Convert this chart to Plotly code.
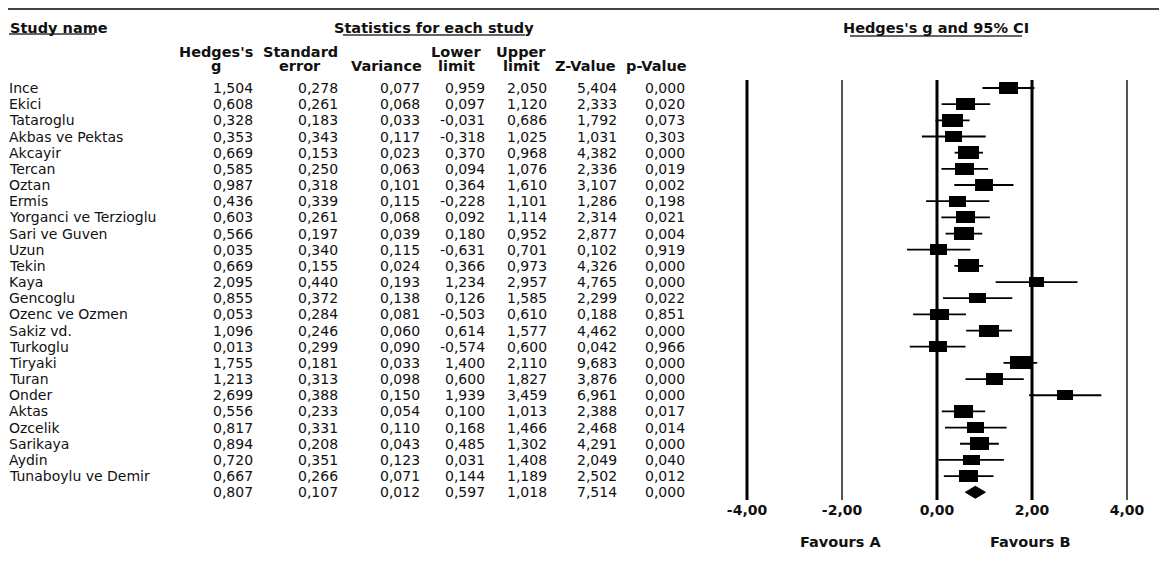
import plotly.graph_objects as go

# ---------------- data ----------------
studies = ["Ince", "Ekici", "Tataroglu", "Akbas ve Pektas", "Akcayir", "Tercan", "Oztan",
           "Ermis", "Yorganci ve Terzioglu", "Sari ve Guven", "Uzun", "Tekin", "Kaya",
           "Gencoglu", "Ozenc ve Ozmen", "Sakiz vd.", "Turkoglu", "Tiryaki", "Turan",
           "Onder", "Aktas", "Ozcelik", "Sarikaya", "Aydin", "Tunaboylu ve Demir"]
hedges_g = [1.504, 0.608, 0.328, 0.353, 0.669, 0.585, 0.987, 0.436, 0.603, 0.566, 0.035, 0.669,
            2.095, 0.855, 0.053, 1.096, 0.013, 1.755, 1.213, 2.699, 0.556, 0.817, 0.894, 0.720, 0.667]
std_err = [0.278, 0.261, 0.183, 0.343, 0.153, 0.250, 0.318, 0.339, 0.261, 0.197, 0.340, 0.155,
           0.440, 0.372, 0.284, 0.246, 0.299, 0.181, 0.313, 0.388, 0.233, 0.331, 0.208, 0.351, 0.266]
variance = [0.077, 0.068, 0.033, 0.117, 0.023, 0.063, 0.101, 0.115, 0.068, 0.039, 0.115, 0.024,
            0.193, 0.138, 0.081, 0.060, 0.090, 0.033, 0.098, 0.150, 0.054, 0.110, 0.043, 0.123, 0.071]
lower = [0.959, 0.097, -0.031, -0.318, 0.370, 0.094, 0.364, -0.228, 0.092, 0.180, -0.631, 0.366,
         1.234, 0.126, -0.503, 0.614, -0.574, 1.400, 0.600, 1.939, 0.100, 0.168, 0.485, 0.031, 0.144]
upper = [2.050, 1.120, 0.686, 1.025, 0.968, 1.076, 1.610, 1.101, 1.114, 0.952, 0.701, 0.973,
         2.957, 1.585, 0.610, 1.577, 0.600, 2.110, 1.827, 3.459, 1.013, 1.466, 1.302, 1.408, 1.189]
z_value = [5.404, 2.333, 1.792, 1.031, 4.382, 2.336, 3.107, 1.286, 2.314, 2.877, 0.102, 4.326,
           4.765, 2.299, 0.188, 4.462, 0.042, 9.683, 3.876, 6.961, 2.388, 2.468, 4.291, 2.049, 2.502]
p_value = [0.000, 0.020, 0.073, 0.303, 0.000, 0.019, 0.002, 0.198, 0.021, 0.004, 0.919, 0.000,
           0.000, 0.022, 0.851, 0.000, 0.966, 0.000, 0.000, 0.000, 0.017, 0.014, 0.000, 0.040, 0.012]

summary_g = 0.807
summary_se = 0.107
summary_var = 0.012
summary_lower = 0.597
summary_upper = 1.018
summary_z = 7.514
summary_p = 0.000

tick_vals = [-4, -2, 0, 2, 4]
tick_labels = ["-4,00", "-2,00", "0,00", "2,00", "4,00"]

col_head1 = ["Hedges's", "Standard", "", "Lower", "Upper", "", ""]
col_head2 = ["g", "error", "Variance", "limit", "limit", "Z-Value", "p-Value"]

# ---------------- layout constants (reference-page pixels) ----------------
PAGE_W, PAGE_H = 1167, 577
BODY_MARGIN = 8                      # default html body margin
W = PAGE_W - BODY_MARGIN
H = PAGE_H - BODY_MARGIN
PLOT_BOTTOM_PX = 500
FIRST_ROW_PX = 88
ROW_PX = 16.17
X0_PX = 937          # pixel of effect 0
UNIT_PX = 47.5       # pixels per effect unit
FOREST_LEFT_PX = 720
TAU2 = 0.4
BOX_SCALE = 8.8
BOX_ASPECT = 0.63

FONT = "DejaVu Sans"
TXT = "#111111"

n = len(studies)
rows = list(range(n))
summary_row = n

plot_h = PLOT_BOTTOM_PX - BODY_MARGIN
y_top = (BODY_MARGIN - FIRST_ROW_PX) / ROW_PX
y_bot = (PLOT_BOTTOM_PX - FIRST_ROW_PX) / ROW_PX
x_lo = (FOREST_LEFT_PX - X0_PX) / UNIT_PX
x_hi = (PAGE_W - X0_PX) / UNIT_PX


def px_x(px):
    return (px - BODY_MARGIN) / W


def px_y(px):
    return 1 - (px - BODY_MARGIN) / plot_h


def fmt(v):
    return f"{v:.3f}".replace(".", ",")


fig = go.Figure()

# confidence interval lines
ci_x, ci_y = [], []
for r, lo, hi in zip(rows, lower, upper):
    ci_x += [lo, hi, None]
    ci_y += [r, r, None]
fig.add_trace(go.Scatter(x=ci_x, y=ci_y, mode="lines", line=dict(color="black", width=1.8),
                         hoverinfo="skip", showlegend=False))

# boxes sized by weight
weights = [1 / (v + TAU2) for v in variance]
box_w_px = [BOX_SCALE * w for w in weights]
box_w = [b / UNIT_PX for b in box_w_px]
box_h = [BOX_ASPECT * b / ROW_PX for b in box_w_px]
fig.add_trace(go.Bar(orientation="h", y=rows, x=box_w,
                     base=[g - w / 2 for g, w in zip(hedges_g, box_w)],
                     width=box_h, marker=dict(color="black", line=dict(width=0)),
                     hoverinfo="skip", showlegend=False))

# summary diamond
dh = 6 / ROW_PX
fig.add_trace(go.Scatter(x=[summary_lower, summary_g, summary_upper, summary_g, summary_lower],
                         y=[summary_row, summary_row - dh, summary_row, summary_row + dh, summary_row],
                         mode="lines", fill="toself", fillcolor="black",
                         line=dict(color="black", width=1), hoverinfo="skip", showlegend=False))

shapes = []
# vertical reference lines
line_styles = {-4: ("black", 3), -2: ("#555555", 2), 0: ("black", 3), 2: ("black", 3), 4: ("#555555", 2)}
for tv in tick_vals:
    c, lw = line_styles[tv]
    shapes.append(dict(type="line", xref="x", yref="y", x0=tv, x1=tv, y0=-0.5, y1=n + 0.5,
                       line=dict(color=c, width=lw), layer="below"))
# top rule (as high as the page margin allows)
shapes.append(dict(type="line", xref="paper", yref="paper", x0=0, x1=1, y0=px_y(9), y1=px_y(9),
                   line=dict(color="#444444", width=2)))
# header underlines
for (a, b, yy) in [(9, 95, 34), (343, 525, 35), (850, 1022, 36)]:
    shapes.append(dict(type="line", xref="paper", yref="paper", x0=px_x(a), x1=px_x(b),
                       y0=px_y(yy), y1=px_y(yy), line=dict(color="#333333", width=1.5)))

ann = []
hfont = dict(family=FONT, size=14.5, color=TXT, weight="bold")
dfont = dict(family=FONT, size=14, color=TXT)

ann.append(dict(text="Study name", xref="paper", yref="paper", x=px_x(8), y=px_y(28),
                xanchor="left", yanchor="middle", showarrow=False, font=hfont))
ann.append(dict(text="Statistics for each study", xref="paper", yref="paper", x=px_x(434), y=px_y(28),
                xanchor="center", yanchor="middle", showarrow=False, font=hfont))
ann.append(dict(text="Hedges's g and 95% CI", xref="paper", yref="paper", x=px_x(936), y=px_y(28),
                xanchor="center", yanchor="middle", showarrow=False, font=hfont))

head_centers = [216, 300, 386, 456, 521, 585, 656]
for c, h1, h2 in zip(head_centers, col_head1, col_head2):
    if h1:
        ann.append(dict(text=h1, xref="paper", yref="paper", x=px_x(c), y=px_y(52),
                        xanchor="center", yanchor="middle", showarrow=False, font=hfont))
    ann.append(dict(text=h2, xref="paper", yref="paper", x=px_x(c), y=px_y(66),
                    xanchor="center", yanchor="middle", showarrow=False, font=hfont))

col_right = [255, 340, 422, 487, 549, 619, 687]
table_rows = list(zip(studies, hedges_g, std_err, variance, lower, upper, z_value, p_value))
table_rows.append(("", summary_g, summary_se, summary_var, summary_lower, summary_upper, summary_z, summary_p))
for r, rec in enumerate(table_rows):
    if rec[0]:
        ann.append(dict(text=rec[0], xref="paper", yref="y", x=px_x(7), y=r,
                        xanchor="left", yanchor="middle", showarrow=False, font=dfont))
    for cx, v in zip(col_right, rec[1:]):
        ann.append(dict(text=fmt(v), xref="paper", yref="y", x=px_x(cx), y=r,
                        xanchor="right", yanchor="middle", showarrow=False, font=dfont))

ann.append(dict(text="Favours A", xref="paper", yref="paper", x=px_x(840), y=px_y(542),
                xanchor="center", yanchor="middle", showarrow=False, font=hfont))
ann.append(dict(text="Favours B", xref="paper", yref="paper", x=px_x(1030), y=px_y(542),
                xanchor="center", yanchor="middle", showarrow=False, font=hfont))

fig.update_layout(
    width=W, height=H, autosize=False,
    margin=dict(l=0, r=0, t=0, b=H - plot_h, pad=0),
    paper_bgcolor="white", plot_bgcolor="white",
    showlegend=False, bargap=0,
    shapes=shapes, annotations=ann,
    xaxis=dict(domain=[px_x(FOREST_LEFT_PX), 1], range=[x_lo, x_hi], tickvals=tick_vals,
               ticktext=tick_labels, showgrid=False, zeroline=False, showline=False, ticks="",
               tickfont=dict(family=FONT, size=14, color=TXT, weight="bold"), fixedrange=True),
    yaxis=dict(range=[y_bot, y_top], visible=False, showgrid=False, zeroline=False, fixedrange=True),
)

fig.write_html("out.html")
